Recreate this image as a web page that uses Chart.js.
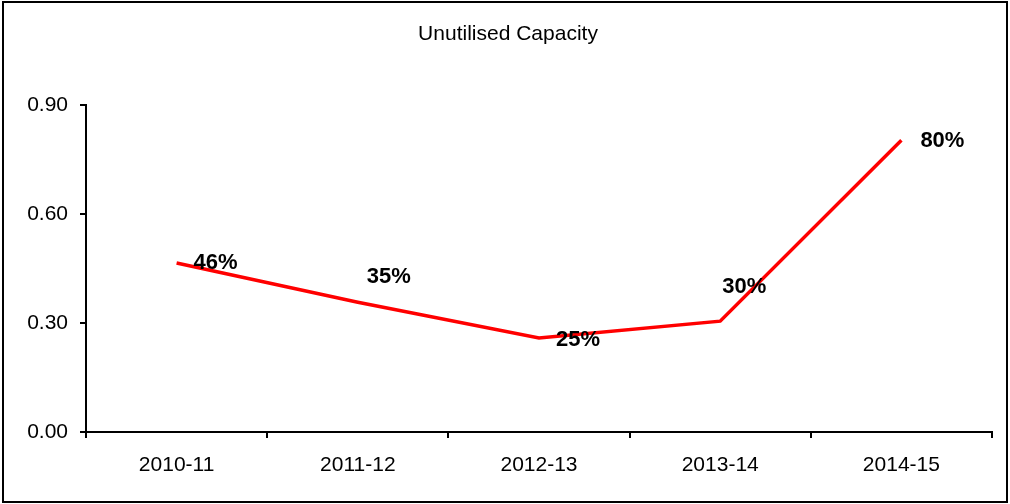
<!DOCTYPE html>
<html>
<head>
<meta charset="utf-8">
<script src="https://cdn.jsdelivr.net/npm/chart.js@4"></script>
<style>
  html, body { margin: 0; padding: 0; background: #fff; }
  #wrap { position: relative; width: 1010px; height: 504px; }
</style>
</head>
<body>
<div id="wrap"><canvas id="chart" width="1010" height="504"></canvas></div>
<script>
const years = ['2010-11', '2011-12', '2012-13', '2013-14', '2014-15'];
const capacity = [0.465, 0.357, 0.259, 0.305, 0.803];
const capacityLabels = ['46%', '35%', '25%', '30%', '80%'];
const yTicks = [0, 0.3, 0.6, 0.9];

// where each data label sits relative to its point (moved by hand in the original)
const labelOffsets = [[39, 0], [31, -25], [39, 2], [24, -34], [41, 1]];

const frameAndLabels = {
  id: 'frameAndLabels',
  afterDatasetsDraw(chart) {
    const ctx = chart.ctx;
    const meta = chart.getDatasetMeta(0);
    ctx.save();
    ctx.fillStyle = '#000';
    ctx.font = 'bold 22px "Liberation Sans", Arial, sans-serif';
    ctx.textAlign = 'center';
    ctx.textBaseline = 'middle';
    meta.data.forEach((pt, i) => {
      const off = labelOffsets[i];
      ctx.fillText(capacityLabels[i], pt.x + off[0], pt.y + off[1]);
    });
    ctx.font = '21px "Liberation Sans", Arial, sans-serif';
    ctx.fillText('Unutilised Capacity', 508, 34);
    ctx.lineWidth = 2;
    ctx.strokeStyle = '#000';
    ctx.strokeRect(3, 2, 1004, 500);
    ctx.restore();
  }
};

new Chart(document.getElementById('chart'), {
  type: 'line',
  data: {
    labels: years,
    datasets: [{
      data: capacity,
      borderColor: '#ff0000',
      backgroundColor: '#ff0000',
      borderWidth: 3.5,
      pointRadius: 0,
      tension: 0,
      fill: false
    }]
  },
  options: {
    responsive: false,
    animation: false,
    layout: { padding: { top: 105, right: 18, bottom: 0, left: 0 } },
    plugins: {
      legend: { display: false },
      title: { display: false },
      tooltip: { enabled: false }
    },
    scales: {
      x: {
        offset: true,
        grid: { offset: true, drawOnChartArea: false, drawTicks: true, tickLength: 6, color: '#000', lineWidth: 2 },
        border: { display: true, color: '#000', width: 2 },
        ticks: { color: '#000', padding: 15, font: { family: '"Liberation Sans", Arial, sans-serif', size: 21 } },
        afterFit: scale => { scale.height = 72; }
      },
      y: {
        min: 0,
        max: 0.9,
        afterBuildTicks: scale => { scale.ticks = yTicks.map(v => ({ value: v })); },
        grid: { drawOnChartArea: false, drawTicks: true, tickLength: 6, color: '#000', lineWidth: 2 },
        border: { display: true, color: '#000', width: 2 },
        ticks: {
          color: '#000',
          padding: 12,
          font: { family: '"Liberation Sans", Arial, sans-serif', size: 21 },
          callback: v => Number(v).toFixed(2)
        },
        afterFit: scale => { scale.width = 86; }
      }
    }
  },
  plugins: [frameAndLabels]
});
</script>
</body>
</html>
